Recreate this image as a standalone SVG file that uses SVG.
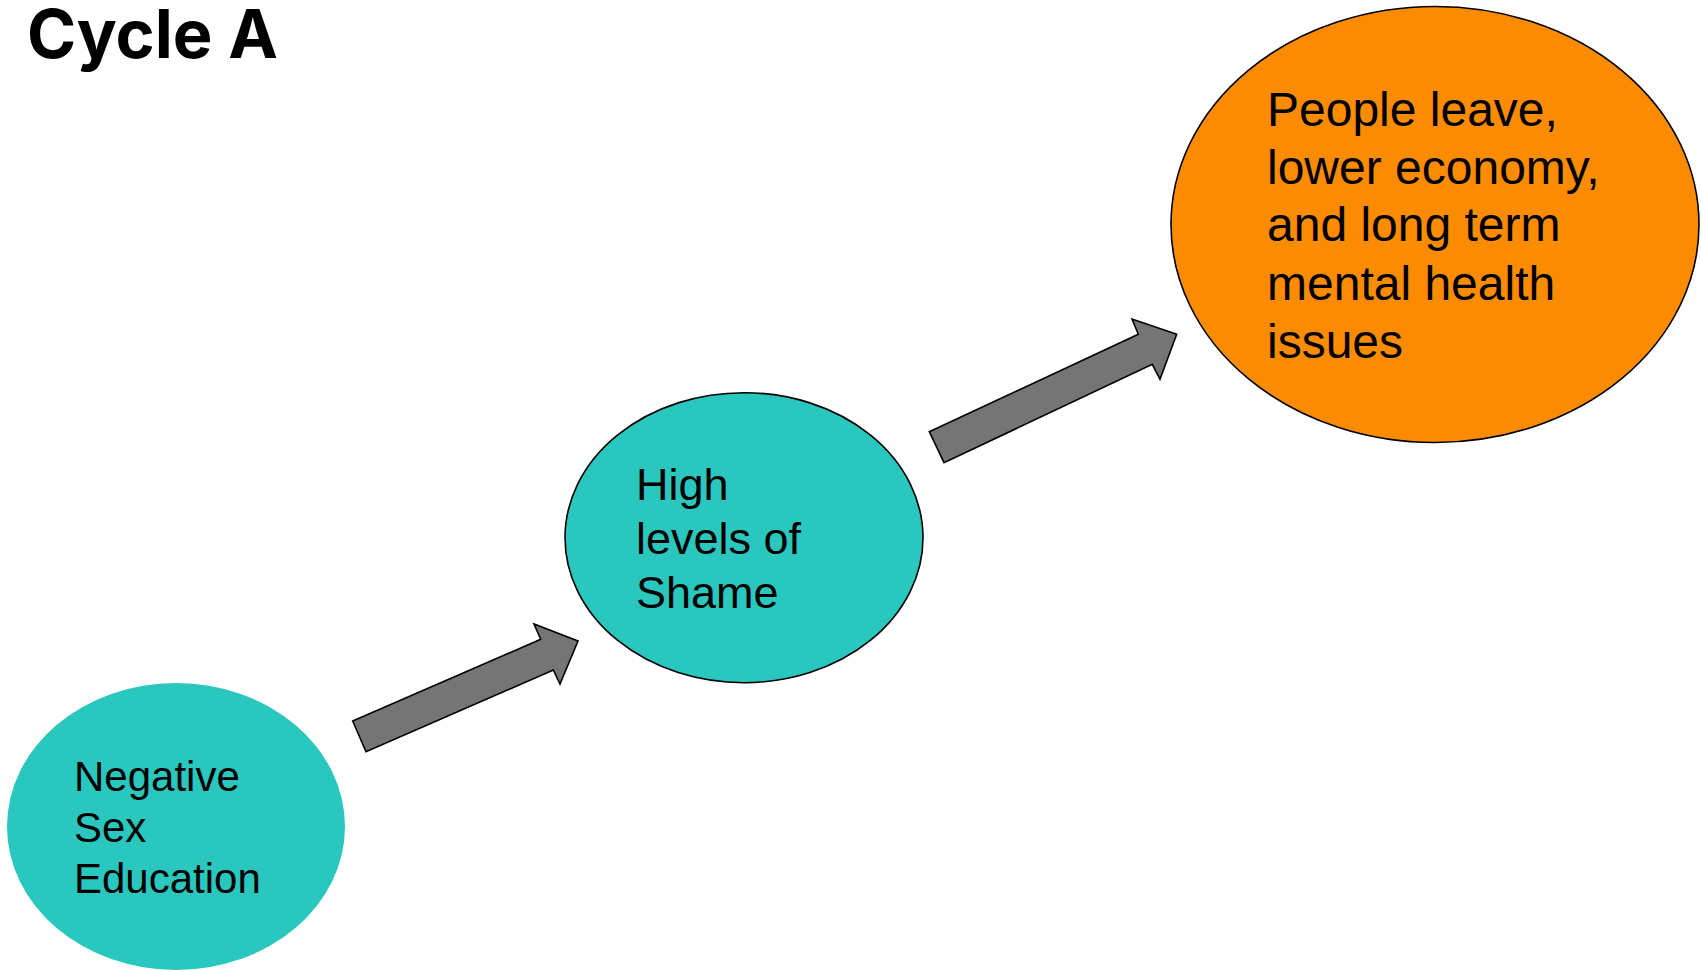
<svg xmlns="http://www.w3.org/2000/svg" width="1701" height="970" viewBox="0 0 1701 970">
<style>
.lbl{font-family:"Liberation Sans",Arial,sans-serif;fill:#000}
.teal{fill:#29C7BD}
.arrow{fill:#757575;stroke:#000;stroke-width:1.6;stroke-linejoin:miter}
</style>
<rect width="1701" height="970" fill="#fff"/>
<text x="27" y="58" font-family="Inter,Lato,sans-serif" font-weight="700" font-size="67" textLength="251" lengthAdjust="spacingAndGlyphs" fill="#000">Cycle A</text>
<g id="connectors">
<polygon class="arrow" points="352.7,721 540.7,639.3 534,624 578,641 560,684 553.3,670 366,751.7"/>
<polygon class="arrow" points="929.3,431.7 1138.3,334.3 1132,319 1176.7,334.3 1160,379.3 1152.3,364.3 944,462.7"/>
</g>
<g id="node-negative">
<ellipse class="teal" cx="176" cy="826.5" rx="169" ry="143.5"/>
<text class="lbl" font-size="42"><tspan x="74" y="791">Negative</tspan><tspan x="74" y="842">Sex</tspan><tspan x="74" y="893">Education</tspan></text>
</g>
<g id="node-shame">
<ellipse class="teal" cx="744" cy="537.7" rx="179" ry="145" stroke="#000" stroke-width="1.6"/>
<text class="lbl" font-size="45"><tspan x="636" y="500">High</tspan><tspan x="636" y="554">levels of</tspan><tspan x="636" y="608">Shame</tspan></text>
</g>
<g id="node-outcome">
<ellipse cx="1435" cy="224.5" rx="264" ry="218" fill="#FB8B00" stroke="#000" stroke-width="1.6"/>
<text class="lbl" font-size="48"><tspan x="1267" y="126">People leave,</tspan><tspan x="1267" y="183.5">lower economy,</tspan><tspan x="1267" y="241">and long term</tspan><tspan x="1267" y="300">mental health</tspan><tspan x="1267" y="357.5">issues</tspan></text>
</g>
</svg>
